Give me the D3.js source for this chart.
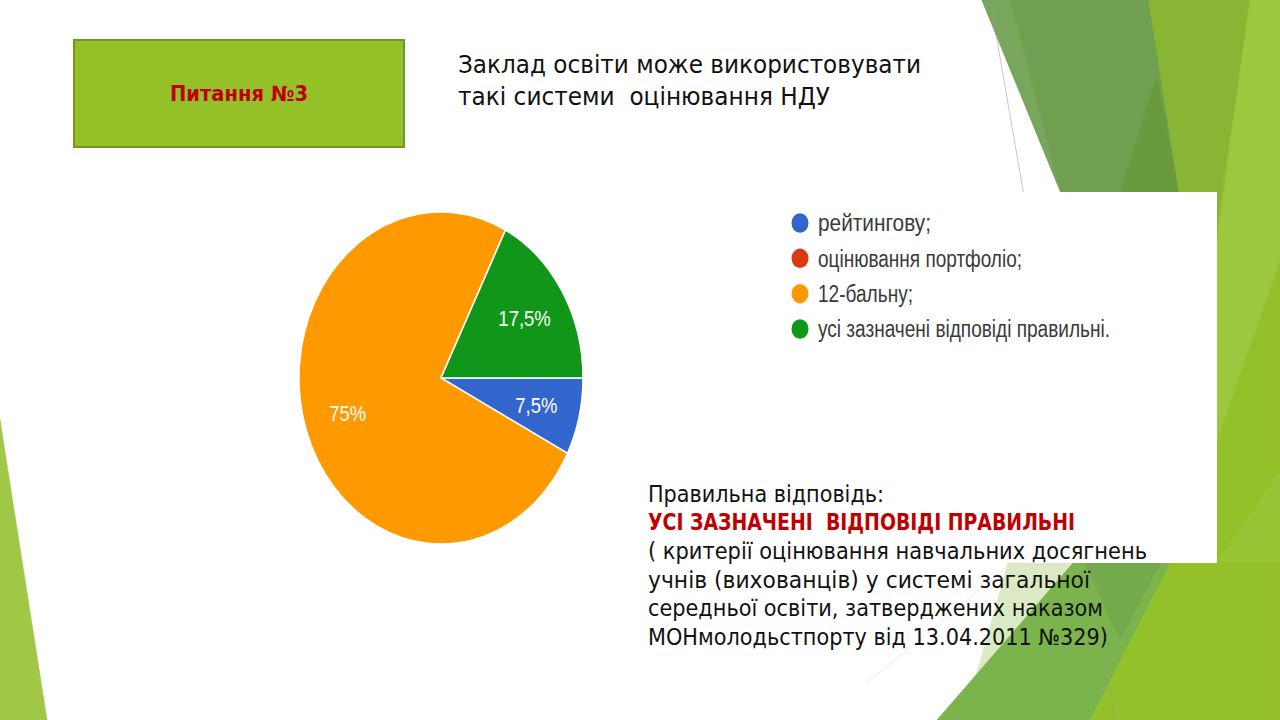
<!DOCTYPE html>
<html>
<head>
<meta charset="utf-8">
<script src="https://cdn.jsdelivr.net/npm/d3@7"></script>
<style>
  html, body { margin: 0; padding: 0; background: #fff; }
  svg { display: block; }
</style>
</head>
<body>
<svg id="slide" width="1280" height="720"></svg>
<script>
// ---- data ----
const categories = ["рейтингову;", "оцінювання портфоліо;", "12-бальну;", "усі зазначені відповіді правильні."];
const values = [7.5, 0, 75, 17.5];
const colors = ["#3366cc", "#dc3912", "#ff9900", "#109618"];

const questionLabel = "Питання №3";
const titleLines = ["Заклад освіти може використовувати", "такі системи  оцінювання НДУ"];
const answerIntro = "Правильна відповідь:";
const answerMain = "УСІ ЗАЗНАЧЕНІ  ВІДПОВІДІ ПРАВИЛЬНІ";
const answerNote = [
  "( критерії оцінювання навчальних досягнень",
  "учнів (вихованців) у системі загальної",
  "середньої освіти, затверджених наказом",
  "МОНмолодьстпорту від 13.04.2011 №329)"
];

const svg = d3.select("#slide");
svg.append("rect").attr("width", 1280).attr("height", 720).attr("fill", "#ffffff");

// ---- decorative background (theme facets) ----
const deco = svg.append("g");
const facets = [
  {fill: "#a0c846", pts: [[0,420],[0,720],[47,720]]},
  {fill: "#93c12a", pts: [[1140,0],[1280,0],[1280,720],[1090,720],[1170,563],[1178,190]]},
  {fill: "#88b534", pts: [[1148,0],[1250,0],[1222,190],[1205,330],[1178,190]]},
  {fill: "#9cc840", pts: [[1250,0],[1280,0],[1280,260],[1217,440],[1205,330]]},
  {fill: "#98c535", pts: [[1217,563],[1280,470],[1280,563]]},
  {fill: "#709f50", pts: [[982,0],[1148,0],[1178,190],[1205,420],[1195,520]]},
  {fill: "#77a65c", pts: [[982,0],[1010,0],[1060,190],[1195,520]]},
  {fill: "#699a3d", pts: [[1157,77],[1178,190],[1195,320],[1080,320]]},
  {fill: "#dbeac4", pts: [[1008,563],[1073,563],[972,690]]},
  {fill: "#7bb34c", pts: [[1073,563],[1170,563],[1090,720],[937,720]]},
  {fill: "#73aa4c", pts: [[1085,563],[1160,563],[1120,640]]}
];
deco.selectAll("polygon").data(facets).join("polygon")
  .attr("points", d => d.pts.map(p => p.join(",")).join(" "))
  .attr("fill", d => d.fill)
  .attr("stroke", d => d.fill).attr("stroke-width", 0.6);
deco.append("line").attr("x1", 990).attr("y1", 0).attr("x2", 1115).attr("y2", 720)
  .attr("stroke", "#9a9a9a").attr("stroke-width", 0.8).attr("opacity", 0.7);
deco.append("line").attr("x1", 867).attr("y1", 683).attr("x2", 1007).attr("y2", 567)
  .attr("stroke", "#cfcfcf").attr("stroke-width", 0.6).attr("opacity", 0.7);

// white chart image panel
svg.append("rect").attr("x", 620).attr("y", 192).attr("width", 597).attr("height", 371).attr("fill", "#ffffff");

// ---- question box ----
svg.append("rect").attr("x", 74).attr("y", 40).attr("width", 330).attr("height", 107)
  .attr("fill", "#93c127").attr("stroke", "#6f9a2a").attr("stroke-width", 2);
svg.append("text").attr("x", 239).attr("y", 101).attr("text-anchor", "middle")
  .attr("font-family", "DejaVu Sans, sans-serif").attr("font-weight", "bold")
  .attr("font-size", 21).attr("fill", "#c00000")
  .attr("textLength", 138).attr("lengthAdjust", "spacingAndGlyphs")
  .text(questionLabel);

// ---- title ----
const titleWidths = [463, 372];
svg.append("g").selectAll("text").data(titleLines).join("text")
  .attr("x", 458).attr("y", (d, i) => 73 + i * 32)
  .attr("font-family", "DejaVu Sans, sans-serif").attr("font-size", 25).attr("fill", "#111")
  .attr("textLength", (d, i) => titleWidths[i]).attr("lengthAdjust", "spacingAndGlyphs")
  .style("white-space", "pre")
  .text(d => d);

// ---- pie ----
const cx = 441, cy = 378, rx = 142, ry = 166;
const table = categories.map((c, i) => ({category: c, value: values[i], color: colors[i]}));
const pie = d3.pie().sort(null).value(d => d.value)
  .startAngle(Math.PI / 2).endAngle(Math.PI / 2 + 2 * Math.PI);
const arcs = pie(table);
const arc = d3.arc().innerRadius(0).outerRadius(rx);
const labelArc = d3.arc().innerRadius(98).outerRadius(98);
const pieG = svg.append("g").attr("transform", `translate(${cx},${cy}) scale(1,${ry / rx})`);
pieG.selectAll("path").data(arcs.filter(d => d.value > 0)).join("path")
  .attr("d", arc).attr("fill", d => d.data.color)
  .attr("stroke", "#ffffff").attr("stroke-width", 1.5).attr("vector-effect", "non-scaling-stroke");
const fmt = v => (Number.isInteger(v) ? String(v) : String(v).replace(".", ",")) + "%";
pieG.selectAll("text").data(arcs.filter(d => d.value > 0)).join("text")
  .attr("transform", d => `translate(${labelArc.centroid(d)})`)
  .attr("text-anchor", "middle").attr("dy", "0.36em")
  .attr("font-family", "Liberation Sans, Arial, sans-serif").attr("font-size", 18.5)
  .attr("fill", "#ffffff")
  .text(d => fmt(d.data.value));

// ---- legend ----
const legendWidths = [113, 204, 95, 292];
const legendY = d3.scalePoint().domain(categories).range([223, 329]);
const legG = svg.append("g");
const items = legG.selectAll("g").data(table).join("g")
  .attr("transform", d => `translate(800,${legendY(d.category)}) scale(1,1.28)`);
items.append("ellipse").attr("rx", 8.5).attr("ry", 7.6).attr("fill", d => d.color);
items.append("text").attr("x", 18).attr("dy", "0.36em")
  .attr("font-family", "Liberation Sans, Arial, sans-serif").attr("font-size", 18).attr("fill", "#3a3a3a")
  .attr("textLength", (d, i) => legendWidths[i]).attr("lengthAdjust", "spacingAndGlyphs")
  .text(d => d.category);

// ---- answer text ----
const ans = svg.append("g").attr("font-family", "DejaVu Sans, sans-serif").attr("font-size", 22.5);
ans.append("text").attr("x", 648).attr("y", 502).attr("fill", "#111")
  .attr("textLength", 236).attr("lengthAdjust", "spacingAndGlyphs").text(answerIntro);
ans.append("text").attr("x", 648).attr("y", 530).attr("fill", "#c00000").attr("font-weight", "bold")
  .attr("textLength", 427).attr("lengthAdjust", "spacingAndGlyphs")
  .style("white-space", "pre").text(answerMain);
const noteWidths = [499, 442, 455, 460];
ans.selectAll("text.note").data(answerNote).join("text").attr("class", "note")
  .attr("x", 648).attr("y", (d, i) => 559 + i * 28.7).attr("fill", "#111")
  .attr("textLength", (d, i) => noteWidths[i]).attr("lengthAdjust", "spacingAndGlyphs")
  .text(d => d);
</script>
</body>
</html>
